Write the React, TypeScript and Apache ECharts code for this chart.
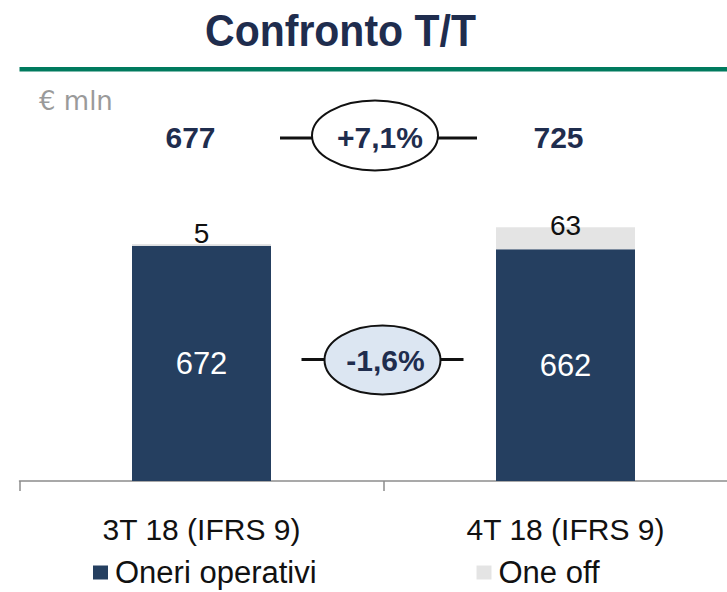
import React, { useEffect, useRef } from "react";
import * as echarts from "echarts";

const categories = ["3T 18 (IFRS 9)", "4T 18 (IFRS 9)"];
const oneriOperativi = [672, 662];
const oneOff = [5, 63];
const totals = [677, 725];
const changes = ["+7,1%", "-1,6%"];
const seriesNames = ["Oneri operativi", "One off"];
const titleText = "Confronto T/T";
const unitText = "€ mln";

const NAVY = "#253f60";
const GRAY = "#e4e4e4";
const TEXT_NAVY = "#1f2d4e";
const FONT = "'Liberation Sans', Arial, sans-serif";

export default function App() {
  const ref = useRef<HTMLDivElement>(null);
  useEffect(() => {
    if (!ref.current) return;
    const chart = echarts.init(ref.current, undefined, { renderer: "svg" });
    const ellipse = (cx: number, cy: number, rx: number, ry: number, fill: string) => ({
      type: "ellipse",
      shape: { cx, cy, rx, ry },
      style: { fill, stroke: "#111", lineWidth: 2 },
      z: 10,
    });
    const hline = (x1: number, x2: number, y: number) => ({
      type: "line",
      shape: { x1, y1: y, x2, y2: y },
      style: { stroke: "#111", lineWidth: 3 },
      z: 10,
    });
    const txt = (x: number, y: number, text: string, size: number, color: string, weight: string, family = FONT, extra: any = {}) => ({
      type: "text",
      x,
      y,
      z: 11,
      ...extra,
      style: {
        text,
        fontSize: size,
        fontWeight: weight,
        fontFamily: family,
        fill: color,
        textAlign: "center",
        textVerticalAlign: "middle",
      },
    });
    const legendCommon = {
      top: 557,
      padding: 0,
      icon: "rect",
      itemWidth: 15,
      itemHeight: 14,
      textStyle: { fontSize: 31, color: "#111", fontFamily: FONT, padding: [0, 0, 0, 2] },
    };
    chart.setOption({
      animation: false,
      grid: { left: 19.5, width: 728, top: 201, bottom: 111, outerBoundsMode: "none", containLabel: false },
      xAxis: {
        type: "category",
        data: categories,
        axisLine: { lineStyle: { color: "#8c8c8c", width: 1.5 } },
        axisTick: { show: true, length: 10, lineStyle: { color: "#8c8c8c", width: 1.5 } },
        axisLabel: { color: "#111", fontSize: 30, fontFamily: FONT, margin: 33 },
      },
      yAxis: { type: "value", min: 0, max: 800, show: false, splitLine: { show: false } },
      legend: [
        { ...legendCommon, data: [seriesNames[0]], left: 93 },
        { ...legendCommon, data: [seriesNames[1]], left: 476.5 },
      ],
      series: [
        {
          name: seriesNames[0],
          type: "bar",
          stack: "total",
          barWidth: 139,
          itemStyle: { color: NAVY },
          label: {
            show: true,
            position: "inside",
            color: "#fff",
            fontSize: 31,
            fontFamily: FONT,
          },
          data: oneriOperativi,
        },
        {
          name: seriesNames[1],
          type: "bar",
          stack: "total",
          barWidth: 139,
          itemStyle: { color: GRAY },
          label: {
            show: true,
            position: "top",
            distance: 0,
            color: "#111",
            fontSize: 28,
            fontFamily: FONT,
          },
          data: oneOff.map((v, i) => ({
            value: v,
            label: { offset: [0, i === 0 ? 3 : 12] },
          })),
        },
      ],
      graphic: [
        txt(340.5, 34, titleText, 41, TEXT_NAVY, "bold", FONT, { scaleY: 1.1, originX: 340.5, originY: 34 }),
        {
          type: "rect",
          shape: { x: 19.5, y: 67, width: 708, height: 4.5 },
          style: { fill: "#007a5e" },
        },
        {
          type: "text",
          x: 39,
          y: 101,
          style: {
            text: unitText,
            fontSize: 26,
            fontFamily: "'DejaVu Sans', sans-serif",
            fill: "#9a9a9a",
            textAlign: "left",
            textVerticalAlign: "middle",
          },
        },
        txt(190.5, 137, String(totals[0]), 30, TEXT_NAVY, "bold"),
        txt(558.5, 137, String(totals[1]), 30, TEXT_NAVY, "bold"),
        hline(280, 313, 138),
        hline(437, 477, 138),
        ellipse(375, 135.5, 63, 35, "#ffffff"),
        txt(380, 137, changes[0], 30, TEXT_NAVY, "bold"),
        hline(301.5, 325, 359.5),
        hline(440, 463.5, 359.5),
        ellipse(382.5, 360, 58, 34.5, "#dce6f2"),
        txt(385.5, 360, changes[1], 30, TEXT_NAVY, "bold"),
      ],
    });
    return () => chart.dispose();
  }, []);
  return (
    <div
      ref={ref}
      style={{ position: "fixed", left: 0, top: 0, width: 727, height: 592, background: "#fff" }}
    />
  );
}
